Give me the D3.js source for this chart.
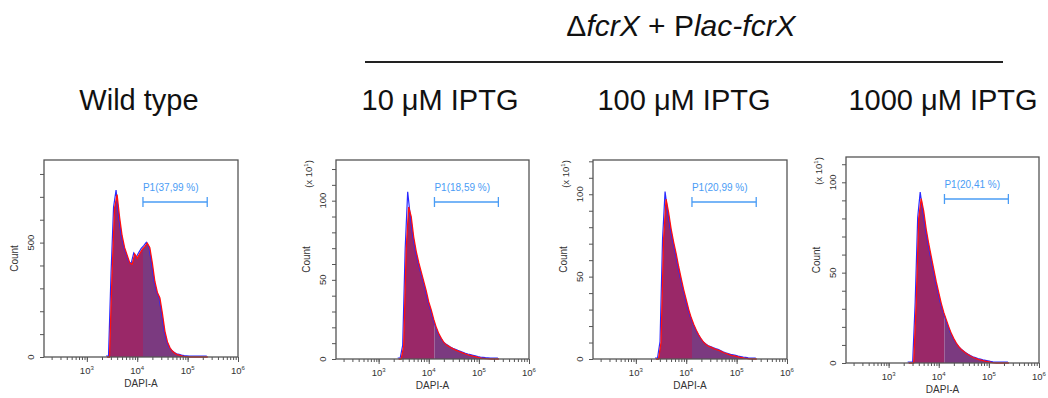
<!DOCTYPE html>
<html lang="en">
<head>
<meta charset="UTF-8">
<script src="https://cdn.jsdelivr.net/npm/d3@7"></script>
<style>
    body{margin:0;background:#fff;}
    svg{font-family:"Liberation Sans",Arial,sans-serif;display:block;}
</style>
<title>DAPI histograms</title>
</head>
<body>
<svg id="chart"></svg>
<script>
var width=1048,height=398;

// log10(DAPI-A) bin centres, shared by all four histograms
var bins=[3.40,3.45,3.50,3.55,3.60,3.65,3.70,3.75,3.80,3.85,3.90,3.95,4.00,4.05,4.10,4.15,4.20,4.25,4.30,4.35,4.40,
    4.45,4.50,4.55,4.60,4.65,4.70,4.75,4.80,4.85,4.90,4.95,5.00,5.05,5.10,5.15,5.20,5.25,5.30,5.35,5.40];

// counts (wild type in counts, the others in x10^1)
var wtCounts=[0,0,360,650,710,610,530,478,445,412,405,450,432,452,470,482,497,478,410,330,282,
    258,190,112,66,40,25,16,10,7,4,2,1,0,0,0,0,0,0,0,0];
var iptg10Counts=[0,0,8,69,96,90,77,68,61,55,49,43,36,31,25,20,16,13,10.5,9,8,
    7,6.2,5.5,4.8,4.2,3.6,3.0,2.5,2.1,1.7,1.3,0.9,0.6,0.4,0.2,0.1,0,0,0,0];
var iptg100Counts=[0,0,10,72,97,89,79,71,64,56,49,42,36,30,25,21,17.5,14.5,12,10,8.7,
    7.6,7,6.3,5.7,5.2,4.5,3.8,3.2,2.7,2.2,1.9,1.6,1.1,0.8,0.5,0.4,0.1,0,0,0];
var iptg1000Counts=[0,0,0,33,80,91,84,74,66,59,52,45,39,33,28,24,20,16.4,13.5,11,9,
    7.5,6.4,5.3,4.4,3.6,2.9,2.4,1.9,1.6,1.2,0.9,0.6,0.3,0.1,0,0,0,0,0,0];
// the blue overlay reaches slightly higher at the peak
var bluePeaks=[725,105,101,94];

var panelTitles=["Wild type","10 \u03bcM IPTG","100 \u03bcM IPTG","1000 \u03bcM IPTG"];
var gateLabels=["P1(37,99 %)","P1(18,59 %)","P1(20,99 %)","P1(20,41 %)"];
var gateRange=[1.3e4,2.45e5];
var yLabelTicks=[[0,500],[0,50,100],[0,50,100],[0,50,100]];
var yMinorStep=[100,10,10,10];
var yMax=[861,125.7,120.8,114];

var boxes=[
    {left:44,top:160,right:238,bottom:357,titleX:139},
    {left:336,top:160,right:529,bottom:359,titleX:440},
    {left:593,top:160,right:787,bottom:359,titleX:684},
    {left:846,top:157,right:1039,bottom:363,titleX:943}
];
var allCounts=[wtCounts,iptg10Counts,iptg100Counts,iptg1000Counts];

var svg=d3.select("#chart").attr("width",width).attr("height",height);

// header
svg.append("text")
    .attr("x",681).attr("y",36)
    .attr("text-anchor","middle")
    .attr("font-size",30).attr("fill","#111")
    .html('\u0394<tspan font-style="italic">fcrX</tspan> + P<tspan font-style="italic">lac-fcrX</tspan>');
svg.append("line")
    .attr("x1",365).attr("x2",1003).attr("y1",62).attr("y2",62)
    .attr("stroke","#222").attr("stroke-width",2);

var defs=svg.append("defs");

boxes.forEach(function(b,i){
    var counts=allCounts[i];
    var x=d3.scaleLog().domain([Math.pow(10,2.15),1e6]).range([b.left,b.right]);
    var y=d3.scaleLinear().domain([0,yMax[i]]).range([b.bottom,b.top]);
    var g=svg.append("g");

    svg.append("text")
        .attr("x",b.titleX).attr("y",110)
        .attr("text-anchor","middle")
        .attr("font-size",29).attr("fill","#111")
        .text(panelTitles[i]);

    var pts=bins.map(function(v,k){return [Math.pow(10,v),counts[k]];});
    var peakIdx=d3.maxIndex(counts);
    var bluePts=pts.map(function(d,k){return k===peakIdx?[d[0],bluePeaks[i]]:d;});

    var area=d3.area()
        .x(function(d){return x(d[0]);})
        .y0(y(0))
        .y1(function(d){return y(d[1]);});
    var line=d3.line()
        .x(function(d){return x(d[0]);})
        .y(function(d){return y(d[1]);});

    // split fill at the gate start
    defs.append("clipPath").attr("id","lo"+i).append("rect")
        .attr("x",b.left).attr("y",b.top)
        .attr("width",x(gateRange[0])-b.left).attr("height",b.bottom-b.top);
    defs.append("clipPath").attr("id","hi"+i).append("rect")
        .attr("x",x(gateRange[0])).attr("y",b.top)
        .attr("width",b.right-x(gateRange[0])).attr("height",b.bottom-b.top);

    g.append("path").datum(pts).attr("d",area)
        .attr("fill","#9a2868").attr("clip-path","url(#lo"+i+")");
    g.append("path").datum(pts).attr("d",area)
        .attr("fill","#7b3a80").attr("clip-path","url(#hi"+i+")");
    g.append("path").datum(bluePts).attr("d",line)
        .attr("transform","translate(-1,-1)")
        .attr("fill","none").attr("stroke","#2a2aff").attr("stroke-width",1.2);
    g.append("path").datum(pts).attr("d",line)
        .attr("fill","none").attr("stroke","#ff1010").attr("stroke-width",1.3);

    // frame
    g.append("rect")
        .attr("x",b.left).attr("y",b.top)
        .attr("width",b.right-b.left).attr("height",b.bottom-b.top)
        .attr("fill","none").attr("stroke","#555").attr("stroke-width",1.3);

    // y axis ticks
    var yAxis=g.append("g")
        .attr("transform","translate("+b.left+",0)")
        .call(d3.axisLeft(y).tickValues(d3.range(0,yMax[i],yMinorStep[i])).tickSize(4).tickFormat(""));
    yAxis.select(".domain").remove();
    yAxis.selectAll("line").attr("stroke","#555");
    yLabelTicks[i].forEach(function(v){
        g.append("text")
            .attr("transform","translate("+(b.left-10)+","+y(v)+") rotate(-90)")
            .attr("text-anchor","middle")
            .attr("font-size",9.5).attr("fill","#333")
            .text(v);
    });
    g.append("text")
        .attr("transform","translate("+(b.left-26)+","+((b.top+b.bottom)/2)+") rotate(-90)")
        .attr("text-anchor","middle")
        .attr("font-size",10).attr("fill","#333")
        .text("Count");
    if(i>0){
        g.append("text")
            .attr("transform","translate("+(b.left-24)+","+(b.top+14)+") rotate(-90)")
            .attr("text-anchor","middle")
            .attr("font-size",9.5).attr("fill","#333")
            .html('(x 10<tspan dy="-4" font-size="6">1</tspan><tspan dy="4">)</tspan>');
    }

    // x axis ticks (log)
    var xMinor=g.append("g")
        .attr("transform","translate(0,"+b.bottom+")")
        .call(d3.axisBottom(x).tickValues(x.ticks()).tickSize(3).tickFormat(""));
    xMinor.select(".domain").remove();
    xMinor.selectAll("line").attr("stroke","#555");
    var decades=[1e3,1e4,1e5,1e6];
    var xMajor=g.append("g")
        .attr("transform","translate(0,"+b.bottom+")")
        .call(d3.axisBottom(x).tickValues(decades).tickSize(5).tickFormat(""));
    xMajor.select(".domain").remove();
    xMajor.selectAll("line").attr("stroke","#555");
    decades.forEach(function(v){
        g.append("text")
            .attr("x",x(v)).attr("y",b.bottom+17)
            .attr("text-anchor","middle")
            .attr("font-size",9.5).attr("fill","#333")
            .html('10<tspan dy="-4" font-size="6">'+Math.round(Math.log10(v))+'</tspan>');
    });
    g.append("text")
        .attr("x",(b.left+b.right)/2).attr("y",b.bottom+30)
        .attr("text-anchor","middle")
        .attr("font-size",10).attr("fill","#333")
        .text("DAPI-A");

    // gate marker
    var gy=b.top+42;
    var gx0=x(gateRange[0]),gx1=x(gateRange[1]);
    var gate=g.append("g").attr("stroke","#4a9cf5").attr("stroke-width",1.3);
    gate.append("line").attr("x1",gx0).attr("x2",gx1).attr("y1",gy).attr("y2",gy);
    gate.append("line").attr("x1",gx0).attr("x2",gx0).attr("y1",gy-5).attr("y2",gy+5);
    gate.append("line").attr("x1",gx1).attr("x2",gx1).attr("y1",gy-5).attr("y2",gy+5);
    g.append("text")
        .attr("x",gx0).attr("y",gy-11)
        .attr("font-size",10).attr("fill","#4a9cf5")
        .text(gateLabels[i]);
});
</script>
</body>
</html>
